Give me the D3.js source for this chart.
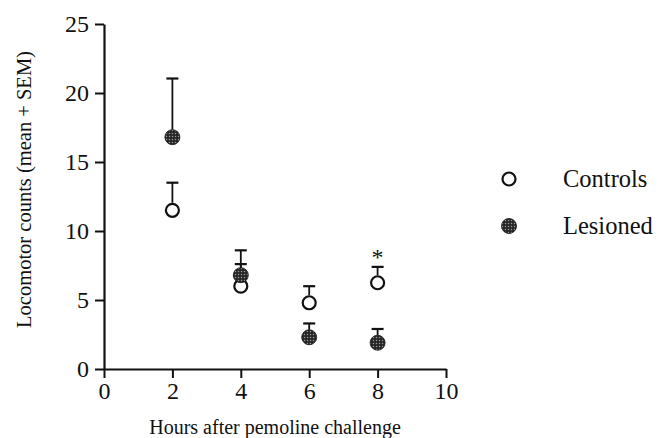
<!DOCTYPE html>
<html>
<head>
<meta charset="utf-8">
<script src="https://cdn.jsdelivr.net/npm/d3@7"></script>
<style>
  body { margin: 0; background: #fff; }
  svg { display: block; }
</style>
</head>
<body>
<div id="app"></div>
<script>

//
// Data
//
const hours = [2, 4, 6, 8]
const controlsMean = [11.5, 6.0, 4.8, 6.25]
const controlsSem = [2.0, 1.6, 1.2, 1.15]
const lesionedMean = [16.8, 6.8, 2.3, 1.9]
const lesionedSem = [4.25, 1.8, 1.0, 1.0]
const xTicks = [0, 2, 4, 6, 8, 10]
const yTicks = [0, 5, 10, 15, 20, 25]
const significant = [8] // hours marked with *

//
// Constants
//
const width = 665
const height = 438
const margin = { top: 24, right: 219, bottom: 69, left: 104 }
const r = 7.5 // marker radius
const capW = 12
const serif = '"Liberation Serif", "Times New Roman", Times, serif'

const svg = d3.select('#app').append('svg')
  .attr('width', width)
  .attr('height', height)
  .style('font-family', serif)

// dotted pattern for the filled (lesioned) markers
const pat = svg.append('defs').append('pattern')
  .attr('id', 'dots')
  .attr('patternUnits', 'userSpaceOnUse')
  .attr('width', 3).attr('height', 3)
pat.append('rect').attr('width', 3).attr('height', 3).attr('fill', '#262626')
pat.append('circle').attr('cx', 1.5).attr('cy', 1.5).attr('r', 0.75).attr('fill', '#9a9a9a')

const x = d3.scaleLinear().domain([0, 10]).range([margin.left, width - margin.right])
const y = d3.scaleLinear().domain([0, 25]).range([height - margin.bottom, margin.top])

//
// Axes
//
const xAxis = svg.append('g')
  .attr('transform', `translate(0, ${y(0)})`)
  .call(d3.axisBottom(x).tickValues(xTicks).tickSize(9).tickPadding(4).tickSizeOuter(0))
const yAxis = svg.append('g')
  .attr('transform', `translate(${x(0)}, 0)`)
  .call(d3.axisLeft(y).tickValues(yTicks).tickSize(9).tickPadding(6).tickSizeOuter(0))

for (const ax of [xAxis, yAxis]) {
  ax.attr('font-family', null).attr('font-size', null)
  ax.select('.domain').attr('stroke', '#111').attr('stroke-width', 2.2)
  ax.selectAll('.tick line').attr('stroke', '#111').attr('stroke-width', 2)
  ax.selectAll('.tick text')
    .style('font-family', serif)
    .style('font-size', '24px')
    .attr('fill', '#111')
}

svg.append('text')
  .attr('x', (x(0) + x(10)) / 2)
  .attr('y', 434)
  .attr('text-anchor', 'middle')
  .style('font-family', serif)
  .style('font-size', '20px')
  .attr('fill', '#111')
  .text('Hours after pemoline challenge')

svg.append('text')
  .attr('transform', `translate(31, ${(y(0) + y(25)) / 2 - 7}) rotate(-90)`)
  .attr('text-anchor', 'middle')
  .style('font-family', serif)
  .style('font-size', '20.5px')
  .attr('fill', '#111')
  .text('Locomotor counts (mean + SEM)')

//
// Series
//
const series = [
  { name: 'Controls', mean: controlsMean, sem: controlsSem, fill: '#fff' },
  { name: 'Lesioned', mean: lesionedMean, sem: lesionedSem, fill: 'url(#dots)' },
]

series.forEach(s => {
  const pts = hours.map((h, i) => ({ h, m: s.mean[i], e: s.sem[i] }))
  const g = svg.append('g')

  // upward error bars only
  g.selectAll('line.bar').data(pts).join('line')
    .attr('x1', d => x(d.h)).attr('x2', d => x(d.h))
    .attr('y1', d => y(d.m) - r).attr('y2', d => y(d.m + d.e))
    .attr('stroke', '#111').attr('stroke-width', 1.8)
  g.selectAll('line.cap').data(pts).join('line')
    .attr('x1', d => x(d.h) - capW / 2).attr('x2', d => x(d.h) + capW / 2)
    .attr('y1', d => y(d.m + d.e)).attr('y2', d => y(d.m + d.e))
    .attr('stroke', '#111').attr('stroke-width', 2.2)

  g.selectAll('circle').data(pts).join('circle')
    .attr('cx', d => x(d.h)).attr('cy', d => y(d.m))
    .attr('r', s.name === 'Controls' ? r - 1 : r)
    .attr('fill', s.fill)
    .attr('stroke', '#111')
    .attr('stroke-width', s.name === 'Controls' ? 2.2 : 0.8)
})

// significance marker
svg.selectAll('text.star').data(significant).join('text')
  .attr('x', d => x(d))
  .attr('y', d => y(controlsMean[hours.indexOf(d)] + controlsSem[hours.indexOf(d)]) - 2)
  .attr('text-anchor', 'middle')
  .style('font-family', serif)
  .style('font-size', '24px')
  .attr('fill', '#111')
  .text('*')

//
// Legend
//
const legend = svg.append('g')
const legendY = [179, 226]
series.forEach((s, i) => {
  legend.append('circle')
    .attr('cx', 509).attr('cy', legendY[i])
    .attr('r', i === 0 ? r - 1 : r)
    .attr('fill', s.fill)
    .attr('stroke', '#111')
    .attr('stroke-width', i === 0 ? 2.2 : 0.8)
  legend.append('text')
    .attr('x', 563).attr('y', legendY[i] + 8)
    .style('font-family', serif)
    .style('font-size', '24.5px')
    .attr('fill', '#111')
    .text(s.name)
})

</script>
</body>
</html>
